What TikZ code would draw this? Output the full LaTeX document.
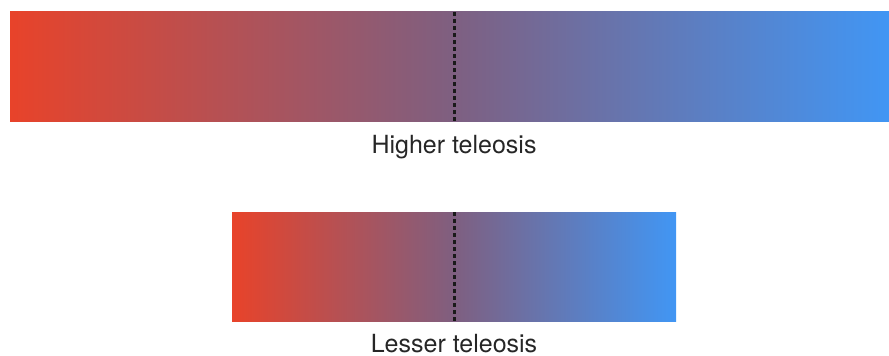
\documentclass[tikz,border=0pt]{standalone}
\usepackage{fontspec}
\setmainfont{TeX Gyre Heros}
\definecolor{barred}{HTML}{E8432A}
\definecolor{barmid}{HTML}{7F5F80}
\definecolor{barblue}{HTML}{4196F4}
\definecolor{dashcol}{HTML}{1A1A1A}
\begin{document}
\begin{tikzpicture}[x=1pt,y=-1pt,
  bar/.style={left color=barred,right color=barblue,middle color=barmid,draw=none},
  divider/.style={draw=dashcol,line width=3pt,dash pattern=on 4pt off 3pt},
  caption/.style={font=\fontsize{25}{28}\selectfont,text=black!85,inner sep=0pt,anchor=base}]
\useasboundingbox (0,0) rectangle (889,356);
\shade[bar] (10,11) rectangle (889,121);
\shade[bar] (232,212) rectangle (676,321);
\coordinate (t1) at (454,12);
\coordinate (t2) at (454,121);
\coordinate (b1) at (454,212);
\coordinate (b2) at (454,323);
\draw[divider] (t1) -- (t2);
\draw[divider] (b1) -- (b2);
\node[caption] (higher) at (454,153) {Higher teleosis};
\node[caption] (lesser) at (454,352) {Lesser teleosis};
\end{tikzpicture}
\end{document}
